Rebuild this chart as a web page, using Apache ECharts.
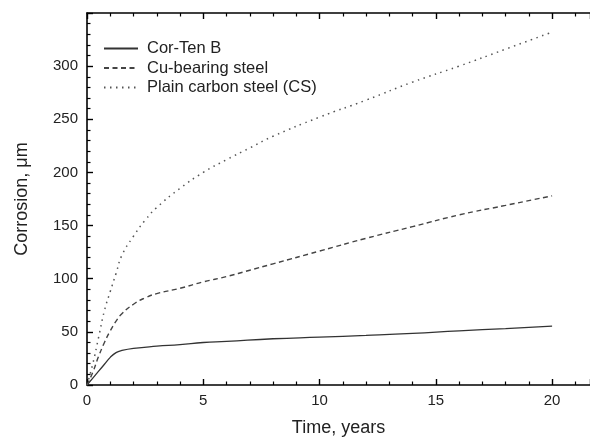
<!DOCTYPE html>
<html>
<head>
<meta charset="utf-8">
<script src="https://cdn.jsdelivr.net/npm/echarts@6/dist/echarts.min.js"></script>
<style>html,body{margin:0;padding:0;background:#fff;}#c{width:590px;height:442px;}</style>
</head>
<body>
<div id="c"></div>
<script>
// Time (years) and corrosion (µm)
var corTenT = [0, 0.25, 0.5, 0.75, 1, 1.25, 1.5, 2, 3, 4, 5, 6, 8, 10, 12, 14, 16, 18, 20];
var corTenV = [0, 6.5, 13, 19.5, 26, 30.5, 32.5, 34.5, 36.5, 38, 40, 41, 43.5, 45, 46.6, 48.5, 51, 53, 55.3];

var cuT = [0, 0.25, 0.5, 0.75, 1, 1.25, 1.5, 2, 2.5, 3, 4, 5, 6, 7, 8, 10, 12, 14, 16, 18, 20];
var cuV = [0, 12, 27, 40, 51, 60, 67, 76, 82, 86, 91, 97, 102, 108, 114, 126, 138, 149, 160, 169, 178];

var csT = [0, 0.25, 0.5, 0.75, 1, 1.25, 1.5, 2, 2.5, 3, 4, 5, 6, 7, 8, 10, 12, 14, 16, 18, 20];
var csV = [0, 20, 45, 70, 88, 105, 122, 140, 155, 167, 185, 200, 212, 223, 234, 252, 268, 285, 300, 316, 332];

var seriesNames = ['Cor-Ten B', 'Cu-bearing steel', 'Plain carbon steel (CS)'];
var xTitle = 'Time, years';
var yTitle = 'Corrosion, \u03bcm';

function pairs(t, v) { return t.map(function (x, i) { return [x, v[i]]; }); }

var font = 'Liberation Sans, Arial, sans-serif';
var axisCommon = {
  axisLine: { show: true, onZero: false, lineStyle: { color: '#000', width: 1.6 } },
  axisTick: { show: true, inside: true, length: 6, lineStyle: { color: '#000', width: 1.4 } },
  minorTick: { show: true, splitNumber: 5, length: 3.5, lineStyle: { color: '#000', width: 1.2 } },
  splitLine: { show: false }
};

var chart = echarts.init(document.getElementById('c'), null, { renderer: 'canvas' });
chart.setOption({
  animation: false,
  backgroundColor: '#fff',
  grid: { left: 87, top: 13, right: 0, bottom: 54, containLabel: false },
  legend: {
    orient: 'vertical', left: 98, top: 35, itemWidth: 34, itemHeight: 14, itemGap: 2.5,
    itemStyle: { opacity: 0 },
    textStyle: { fontFamily: font, fontSize: 16.5, color: '#222', padding: [0, 0, 0, 4] },
    data: seriesNames
  },
  xAxis: [
    Object.assign({}, axisCommon, {
      type: 'value', min: 0, max: 21.63, interval: 5, position: 'bottom',
      name: xTitle, nameLocation: 'middle', nameGap: 34,
      nameTextStyle: { fontFamily: font, fontSize: 18, color: '#222' },
      axisLabel: { margin: 8, fontFamily: font, fontSize: 15, color: '#222', showMaxLabel: false,
        formatter: function (v) { return v <= 20 ? String(v) : ''; } }
    }),
    Object.assign({}, axisCommon, {
      type: 'value', min: 0, max: 21.63, interval: 5, position: 'top',
      axisLabel: { show: false }
    })
  ],
  yAxis: [
    Object.assign({}, axisCommon, {
      type: 'value', min: 0, max: 350, interval: 50, position: 'left',
      name: yTitle, nameLocation: 'middle', nameGap: 56, nameRotate: 90,
      nameTextStyle: { fontFamily: font, fontSize: 18, color: '#222' },
      axisLabel: { margin: 9, fontFamily: font, fontSize: 15, color: '#222',
        formatter: function (v) { return v < 350 ? String(v) : ''; } }
    })
  ],
  series: [
    { name: seriesNames[0], type: 'line', data: pairs(corTenT, corTenV), showSymbol: false, symbol: 'none',
      smooth: 0.5, lineStyle: { color: '#333', width: 1.3, type: 'solid' }, itemStyle: { color: '#333' } },
    { name: seriesNames[1], type: 'line', data: pairs(cuT, cuV), showSymbol: false, symbol: 'none',
      smooth: 0.5, lineStyle: { color: '#444', width: 1.4, type: [5, 3.5] }, itemStyle: { color: '#444' } },
    { name: seriesNames[2], type: 'line', data: pairs(csT, csV), showSymbol: false, symbol: 'none',
      smooth: 0.5, lineStyle: { color: '#555', width: 1.5, type: [1.5, 4.5] }, itemStyle: { color: '#555' } }
  ]
});
</script>
</body>
</html>
